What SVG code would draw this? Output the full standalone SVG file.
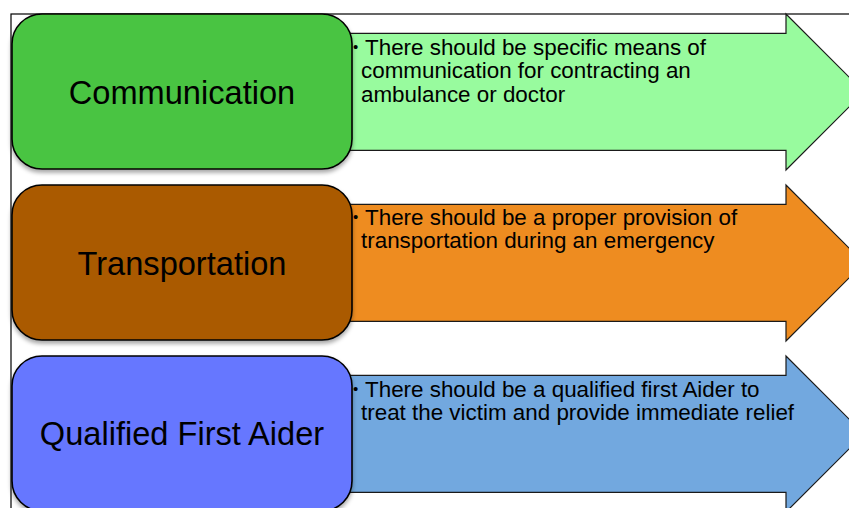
<svg xmlns="http://www.w3.org/2000/svg" width="849" height="508" viewBox="0 0 849 508">
  <defs>
    <filter id="shadow" x="-10%" y="-10%" width="120%" height="130%">
      <feDropShadow dx="0" dy="3" stdDeviation="2" flood-color="#000" flood-opacity="0.35"/>
    </filter>
    <path id="arrowShape" d="M 340 19.3 H 786 V 0 L 864 78 L 786 156 V 136.3 H 340 Z"/>
  </defs>
  <style>
    .frame { fill: none; stroke: #000; stroke-width: 1.2; }
    .arrow { stroke: #1a1a1a; stroke-width: 1.2; stroke-linejoin: miter; }
    .box { stroke: #000; stroke-width: 1.6; filter: url(#shadow); }
    .label { font-family: "Liberation Sans", Arial, sans-serif; font-size: 32.6px; fill: #000; text-anchor: middle; }
    .body { font-family: "Liberation Sans", Arial, sans-serif; font-size: 22.4px; fill: #000; }
    .bullet { font-family: "Liberation Sans", Arial, sans-serif; font-size: 15px; fill: #000; }
  </style>
  <rect x="0" y="0" width="849" height="508" fill="#fff"/>
  <rect class="frame" x="11" y="14" width="860" height="520"/>

  <g id="connectors"></g>

  <g id="node-communication">
    <use href="#arrowShape" class="arrow" y="14" fill="#98FB9E"/>
    <text class="bullet" x="353" y="52">•</text>
    <text class="body"><tspan x="365" y="55">There should be specific means of</tspan><tspan x="361" y="78.3">communication for contracting an</tspan><tspan x="361" y="101.6">ambulance or doctor</tspan></text>
    <rect class="box" x="12" y="14" width="340" height="155" rx="30" ry="30" fill="#4AC443"/>
    <text class="label" x="182" y="104">Communication</text>
  </g>

  <g id="node-transportation">
    <use href="#arrowShape" class="arrow" y="185" fill="#EE8C20"/>
    <text class="bullet" x="353" y="222">•</text>
    <text class="body"><tspan x="365" y="225">There should be a proper provision of</tspan><tspan x="361" y="248.3">transportation during an emergency</tspan></text>
    <rect class="box" x="12" y="185" width="340" height="155" rx="30" ry="30" fill="#AA5A02"/>
    <text class="label" x="182" y="275">Transportation</text>
  </g>

  <g id="node-first-aider">
    <use href="#arrowShape" class="arrow" y="356" fill="#72A8DF"/>
    <text class="bullet" x="353" y="394">•</text>
    <text class="body"><tspan x="365" y="397">There should be a qualified first Aider to</tspan><tspan x="361" y="420.3">treat the victim and provide immediate relief</tspan></text>
    <rect class="box" x="12" y="356" width="340" height="155" rx="30" ry="30" fill="#6677FF"/>
    <text class="label" x="182" y="445">Qualified First Aider</text>
  </g>
</svg>
